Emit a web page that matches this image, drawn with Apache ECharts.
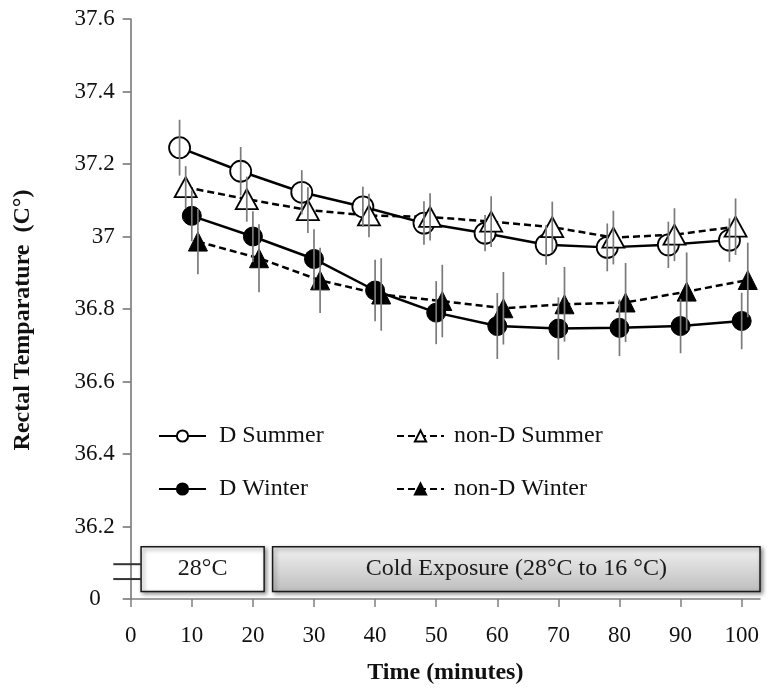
<!DOCTYPE html>
<html>
<head>
<meta charset="utf-8">
<script src="https://cdn.jsdelivr.net/npm/echarts@6/dist/echarts.min.js"></script>
<style>html,body{margin:0;padding:0;background:#fff}#c{width:768px;height:690px}</style>
</head>
<body>
<div id="c"></div>
<script>
// ---- data ----
const xTicks = [0, 10, 20, 30, 40, 50, 60, 70, 80, 90, 100];
const timeDSummer = [8, 18, 28, 38, 48, 58, 68, 78, 88, 98];
const timeNDSummer = [9, 19, 29, 39, 49, 59, 69, 79, 89, 99];
const timeDWinter = [10, 20, 30, 40, 50, 60, 70, 80, 90, 100];
const timeNDWinter = [11, 21, 31, 41, 51, 61, 71, 81, 91, 101];

const dSummer   = [37.245, 37.180, 37.122, 37.082, 37.037, 37.009, 36.977, 36.970, 36.977, 36.990];
const ndSummer  = [37.136, 37.103, 37.073, 37.058, 37.054, 37.041, 37.026, 36.997, 37.005, 37.027];
const dWinter   = [37.057, 37.000, 36.938, 36.851, 36.790, 36.753, 36.746, 36.748, 36.753, 36.767];
const ndWinter  = [36.986, 36.940, 36.879, 36.840, 36.822, 36.802, 36.813, 36.818, 36.848, 36.880];

const errDSummer  = [0.077, 0.067, 0.061, 0.055, 0.060, 0.050, 0.055, 0.066, 0.064, 0.060];
const errNDSummer = [0.058, 0.062, 0.063, 0.060, 0.065, 0.070, 0.070, 0.074, 0.073, 0.078];
const errDWinter  = [0.070, 0.070, 0.082, 0.085, 0.087, 0.091, 0.086, 0.078, 0.075, 0.078];
const errNDWinter = [0.090, 0.094, 0.090, 0.100, 0.100, 0.100, 0.103, 0.109, 0.108, 0.103];

const boxLabels = ['28°C', 'Cold Exposure (28°C to 16 °C)'];

// ---- chart ----
const SERIF = 'Liberation Serif, Times New Roman, serif';
const chart = echarts.init(document.getElementById('c'), null, {renderer: 'canvas'});

function pts(xs, ys) { return xs.map((x, i) => [x, ys[i]]); }
function errData(xs, ys, es) { return xs.map((x, i) => [x, ys[i] - es[i], ys[i] + es[i]]); }

function errSeries(xs, ys, es) {
  return {
    type: 'custom',
    silent: true,
    z: 5,
    clip: false,
    data: errData(xs, ys, es),
    encode: {x: 0, y: [1, 2]},
    renderItem: function (params, api) {
      const p1 = api.coord([api.value(0), api.value(1)]);
      const p2 = api.coord([api.value(0), api.value(2)]);
      return {
        type: 'line',
        shape: {x1: p1[0], y1: p1[1], x2: p2[0], y2: p2[1]},
        style: {stroke: '#7a7a7a', lineWidth: 1.7}
      };
    }
  };
}

const option = {
  backgroundColor: '#fff',
  animation: false,
  grid: {left: 130.7, right: 8, top: 19, bottom: 90},
  xAxis: {
    type: 'value',
    min: 0,
    max: 103,
    interval: 10,
    splitLine: {show: false},
    axisLine: {show: true, lineStyle: {color: '#7f7f7f', width: 1.5}},
    axisTick: {show: true, length: 8, lineStyle: {color: '#7f7f7f', width: 1.5}, customValues: xTicks},
    axisLabel: {color: '#111', fontFamily: SERIF, fontSize: 23, margin: 25, customValues: xTicks},
    name: 'Time (minutes)',
    nameLocation: 'middle',
    nameGap: 62,
    nameTextStyle: {color: '#111', fontFamily: SERIF, fontSize: 24, fontWeight: 'bold'}
  },
  yAxis: {
    type: 'value',
    min: 36,
    max: 37.6,
    interval: 0.2,
    splitLine: {show: false},
    axisLine: {show: true, lineStyle: {color: '#6f6f6f', width: 1.5}},
    axisTick: {show: true, length: 8, lineStyle: {color: '#6f6f6f', width: 1.5}},
    axisLabel: {
      color: '#111', fontFamily: SERIF, fontSize: 23, margin: 16,
      formatter: function (v) {
        if (Math.abs(v - 36) < 1e-6) return '{z|0}';
        return String(+v.toFixed(1));
      },
      rich: {z: {fontFamily: SERIF, fontSize: 23, color: '#111', padding: [0, 14, 0, 0]}}
    },
    name: 'Rectal Temparature  (C°)',
    nameLocation: 'middle',
    nameGap: 96,
    nameTextStyle: {color: '#111', fontFamily: SERIF, fontSize: 24, fontWeight: 'bold', padding: [0, 22, 0, 0]}
  },
  legend: [
    {
      data: ['D Summer', 'D Winter'],
      orient: 'vertical',
      left: 158, top: 424,
      padding: 0,
      itemWidth: 47, itemHeight: 14, itemGap: 29,
      textStyle: {fontFamily: SERIF, fontSize: 24, lineHeight: 24, color: '#111', padding: [0, 0, 0, 8]}
    },
    {
      data: ['non-D Summer', 'non-D Winter'],
      orient: 'vertical',
      left: 396, top: 424,
      padding: 0,
      itemWidth: 47, itemHeight: 14, itemGap: 29,
      textStyle: {fontFamily: SERIF, fontSize: 24, lineHeight: 24, color: '#111', padding: [0, 0, 0, 5]}
    }
  ],
  series: [
    {
      name: 'D Summer', type: 'line', data: pts(timeDSummer, dSummer), clip: false, z: 3,
      symbol: 'circle', symbolSize: 21,
      lineStyle: {color: '#000', width: 2.5},
      itemStyle: {color: '#fff', borderColor: '#000', borderWidth: 1.8},
      markArea: {
        silent: true,
        data: [
          [
            {coord: [1.7, 36.021], name: boxLabels[0],
             itemStyle: {color: '#fff', borderColor: '#1a1a1a', borderWidth: 1.5,
                         shadowBlur: 4, shadowColor: 'rgba(0,0,0,0.45)', shadowOffsetX: 2, shadowOffsetY: 2}},
            {coord: [21.84, 36.144]}
          ],
          [
            {coord: [23.22, 36.021], name: boxLabels[1],
             itemStyle: {
               color: new echarts.graphic.LinearGradient(0, 0, 0, 1, [
                 {offset: 0, color: '#f2f2f2'}, {offset: 1, color: '#bdbdbd'}
               ]),
               borderColor: '#1a1a1a', borderWidth: 1.5,
               shadowBlur: 4, shadowColor: 'rgba(0,0,0,0.45)', shadowOffsetX: 2, shadowOffsetY: 2}},
            {coord: [103.43, 36.144]}
          ]
        ],
        label: {show: true, position: 'inside', fontFamily: SERIF, fontSize: 24, color: '#1a1a1a'}
      }
    },
    {
      name: 'non-D Summer', type: 'line', data: pts(timeNDSummer, ndSummer), clip: false, z: 3,
      symbol: 'triangle', symbolSize: [22, 20],
      lineStyle: {color: '#000', width: 2.5, type: [7, 4]},
      itemStyle: {color: '#fff', borderColor: '#000', borderWidth: 1.8}
    },
    {
      name: 'D Winter', type: 'line', data: pts(timeDWinter, dWinter), clip: false, z: 3,
      symbol: 'circle', symbolSize: 19,
      lineStyle: {color: '#000', width: 2.5},
      itemStyle: {color: '#000', borderColor: '#000', borderWidth: 1}
    },
    {
      name: 'non-D Winter', type: 'line', data: pts(timeNDWinter, ndWinter), clip: false, z: 3,
      symbol: 'triangle', symbolSize: [19, 19],
      lineStyle: {color: '#000', width: 2.5, type: [7, 4]},
      itemStyle: {color: '#000', borderColor: '#000', borderWidth: 1}
    },
    errSeries(timeDSummer, dSummer, errDSummer),
    errSeries(timeNDSummer, ndSummer, errNDSummer),
    errSeries(timeDWinter, dWinter, errDWinter),
    errSeries(timeNDWinter, ndWinter, errNDWinter)
  ]
};
chart.setOption(option);

// axis break marks, positioned through the axis scales
const b1a = chart.convertToPixel({gridIndex: 0}, [-2.85, 36.096]);
const b1b = chart.convertToPixel({gridIndex: 0}, [1.7, 36.096]);
const b2a = chart.convertToPixel({gridIndex: 0}, [-2.85, 36.055]);
const b2b = chart.convertToPixel({gridIndex: 0}, [1.7, 36.055]);
chart.setOption({
  graphic: [
    {type: 'line', z: 10, shape: {x1: b1a[0], y1: b1a[1], x2: b1b[0], y2: b1b[1]}, style: {stroke: '#333', lineWidth: 2}},
    {type: 'line', z: 10, shape: {x1: b2a[0], y1: b2a[1], x2: b2b[0], y2: b2b[1]}, style: {stroke: '#333', lineWidth: 2}}
  ]
});
</script>
</body>
</html>
